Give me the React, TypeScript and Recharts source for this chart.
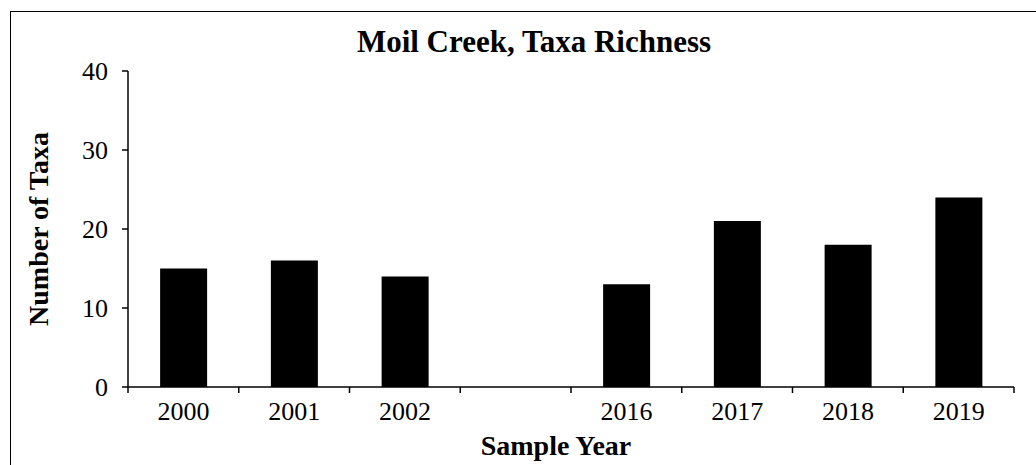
import { BarChart, Bar, XAxis, YAxis, Label } from 'recharts';

// Moil Creek benthic sampling, taxa counts per year
const years = ['2000', '2001', '2002', '', '2016', '2017', '2018', '2019'];
const taxaCounts = [15, 16, 14, null, 13, 21, 18, 24];
const yTicks = [0, 10, 20, 30, 40];

const data = years.map((year, i) => ({ year, taxa: taxaCounts[i] }));

const FONT = '"Liberation Serif", "Times New Roman", serif';
const X_TICK_MARGIN = 10;

// category label plus Excel-style tick marks on the category boundaries
function YearTick(props: any) {
  const { x, y, payload, index, visibleTicksCount } = props;
  const half = payload.offset || 0;
  const axisY = y - X_TICK_MARGIN;
  const isLast = index === visibleTicksCount - 1;
  return (
    <g>
      <line x1={x - half} x2={x - half} y1={axisY} y2={axisY + 6} stroke="#000" strokeWidth={1.5} />
      {isLast && (
        <line x1={x + half} x2={x + half} y1={axisY} y2={axisY + 6} stroke="#000" strokeWidth={1.5} />
      )}
      <text x={x} y={axisY + 33} textAnchor="middle" fill="#000" fontSize={26} fontFamily={FONT}>
        {payload.value}
      </text>
    </g>
  );
}

export default function App() {
  return (
    <div
      style={{
        position: 'absolute',
        left: 0,
        top: 0,
        width: 1036,
        height: 465,
        overflow: 'hidden',
        background: '#fff',
        fontFamily: FONT,
      }}
    >
      {/* frame (only top/left edges fall inside the picture) */}
      <div
        style={{
          position: 'absolute',
          left: 10,
          top: 11,
          width: 1100,
          height: 600,
          borderLeft: '1.5px solid #000',
          borderTop: '1.5px solid #000',
        }}
      />

      {/* title */}
      <div
        style={{
          position: 'absolute',
          left: 0,
          top: 26,
          width: 1068,
          textAlign: 'center',
          fontSize: 31,
          fontWeight: 'bold',
          lineHeight: '31px',
          color: '#000',
          whiteSpace: 'nowrap',
        }}
      >
        Moil Creek, Taxa Richness
      </div>

      <div style={{ position: 'absolute', left: 0, top: 0 }}>
        <BarChart
          width={1036}
          height={465}
          data={data}
          margin={{ top: 71, right: 22, bottom: 0, left: 0 }}
          barCategoryGap="29%"
        >
          <XAxis
            dataKey="year"
            height={78}
            tickLine={false}
            tickSize={0}
            tickMargin={X_TICK_MARGIN}
            axisLine={{ stroke: '#000', strokeWidth: 1.5 }}
            tick={<YearTick />}
            interval={0}
          >
            <Label
              value="Sample Year"
              position="center"
              dx={-15}
              dy={19}
              style={{ fill: '#000', fontSize: 28, fontWeight: 'bold', fontFamily: FONT }}
            />
          </XAxis>
          <YAxis
            width={128}
            domain={[0, 40]}
            ticks={yTicks}
            tickSize={6}
            tickMargin={14}
            tickLine={{ stroke: '#000', strokeWidth: 1.5 }}
            axisLine={{ stroke: '#000', strokeWidth: 1.5 }}
            tick={{ fill: '#000', fontSize: 26, fontFamily: FONT }}
            interval={0}
          >
            <Label
              value="Number of Taxa"
              angle={-90}
              position="center"
              dx={-26}
              style={{ fill: '#000', fontSize: 28, fontWeight: 'bold', fontFamily: FONT, textAnchor: 'middle' }}
            />
          </YAxis>
          <Bar dataKey="taxa" fill="#000" isAnimationActive={false} />
        </BarChart>
      </div>
    </div>
  );
}
